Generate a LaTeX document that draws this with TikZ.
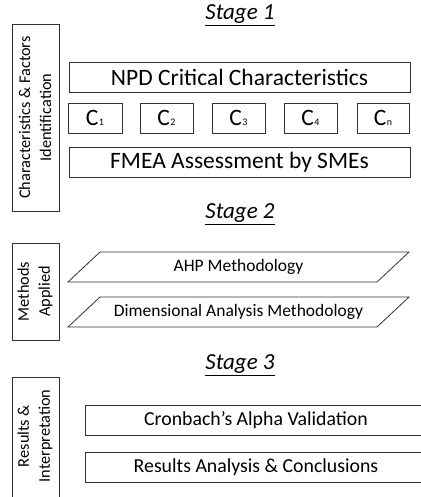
\documentclass[tikz,border=0pt]{standalone}
\usepackage{fontspec}
\setmainfont{Carlito}
\newcommand{\cidx}[1]{\kern0.5pt\raisebox{-0.5pt}{\fontsize{10}{10}\selectfont #1}}
\begin{document}
\begin{tikzpicture}[x=1pt,y=-1pt,
  frame/.style={draw=black!80,line width=0.8pt},
  bigbox/.style={frame,minimum height=30pt,inner sep=0pt,font=\fontsize{23.5}{27}\selectfont},
  cbox/.style={frame,minimum height=30pt,inner sep=0pt,font=\fontsize{23.5}{27}\selectfont},
  stagelbl/.style={font=\fontsize{23}{27}\selectfont\itshape,inner sep=0pt},
  sidelbl/.style={rotate=90,align=center,inner sep=0pt,font=\fontsize{16.3}{21}\selectfont},
  midlbl/.style={inner sep=0pt,font=\fontsize{17.5}{21}\selectfont},
  reslbl/.style={frame,minimum height=30pt,inner sep=0pt},
  restext/.style={inner sep=0pt,font=\fontsize{19.8}{23}\selectfont}]
\useasboundingbox (0,0) rectangle (420,497);

% stage headings
\node[stagelbl] (s1) at (240,15) {\underline{Stage 1}};
\node[stagelbl] (s2) at (240,214) {\underline{Stage 2}};
\node[stagelbl] (s3) at (240,365) {\underline{Stage 3}};

% side frames
\draw[frame] (12,24) rectangle (59,211);
\node[sidelbl] (l1) at (35,117.5) {Characteristics \& Factors\\Identification};
\draw[frame] (12,243) rectangle (59,340);
\node[sidelbl] (l2) at (35,291.5) {Methods\\Applied};
\draw[frame] (12,377) rectangle (59,505);
\node[sidelbl] (l3) at (35,436) {Results \&\\Interpretation};

% stage 1
\node[bigbox,minimum width=341pt] (npd) at (239.5,77) {NPD Critical Characteristics};
\node[cbox,minimum width=54pt] (c1) at (95,118) {C\cidx{1}};
\node[cbox,minimum width=53pt] (c2) at (166.5,118) {C\cidx{2}};
\node[cbox,minimum width=53pt] (c3) at (238.5,118) {C\cidx{3}};
\node[cbox,minimum width=53pt] (c4) at (310.5,118) {C\cidx{4}};
\node[cbox,minimum width=52pt] (cn) at (383,118) {C\cidx{n}};
\node[bigbox,minimum width=341pt] (fmea) at (239.5,162) {FMEA Assessment by SMEs};

% stage 2
\draw[frame] (100,252) -- (409,252) -- (377,282) -- (68,282) -- cycle;
\node[midlbl] (ahp) at (238.5,267) {AHP Methodology};
\draw[frame] (100,297) -- (409,297) -- (377,327) -- (68,327) -- cycle;
\node[midlbl] (dam) at (238.5,312) {Dimensional Analysis Methodology};

% stage 3
\node[reslbl,minimum width=340pt] (cron) at (255,420) {};
\node[restext] (cront) at (256,420) {Cronbach’s Alpha Validation};
\node[reslbl,minimum width=340pt] (res) at (255,467) {};
\node[restext] (rest) at (256,467) {Results Analysis \& Conclusions};
\end{tikzpicture}
\end{document}
